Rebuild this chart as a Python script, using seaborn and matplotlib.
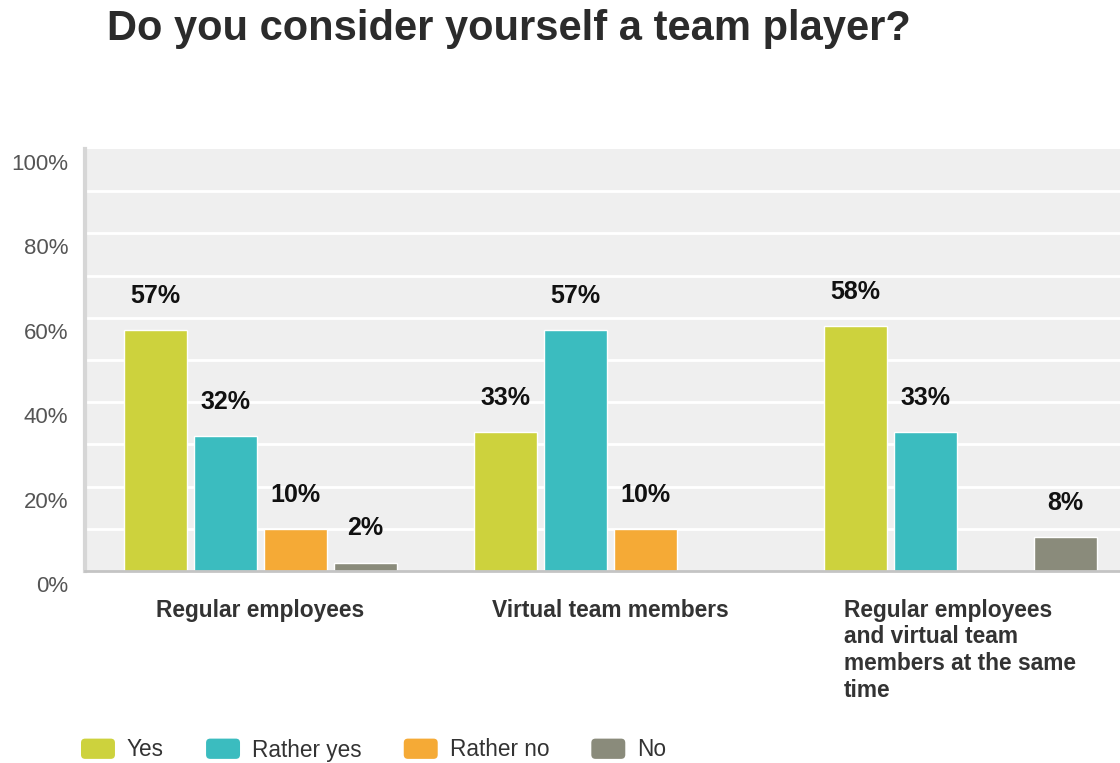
import numpy as np
import pandas as pd
import matplotlib
matplotlib.use("Agg")
import matplotlib.pyplot as plt
from matplotlib.transforms import ScaledTranslation
from matplotlib.patches import Patch, FancyBboxPatch
from matplotlib.legend_handler import HandlerBase
import seaborn as sns

# Survey answers per respondent group (percent)
groups = ["Regular employees", "Virtual team members",
          "Regular employees\nand virtual team\nmembers at the same\ntime"]
answers = ["Yes", "Rather yes", "Rather no", "No"]
yes = [57, 33, 58]
rather_yes = [32, 57, 33]
rather_no = [10, 10, np.nan]
no = [2, np.nan, 8]
yticks = [0, 20, 40, 60, 80, 100]
ytick_labels = ["0%", "20%", "40%", "60%", "80%", "100%"]

colors = ["#cdd23d", "#3bbcbf", "#f5aa36", "#8a8b7b"]

rows = []
for ans, vals in zip(answers, [yes, rather_yes, rather_no, no]):
    for g, v in zip(groups, vals):
        rows.append({"group": g, "answer": ans, "value": v})
df = pd.DataFrame(rows).dropna()

sns.set_theme(style="white")
plt.rcParams["font.family"] = ["Liberation Sans", "DejaVu Sans"]

fig = plt.figure(figsize=(11.2, 7.63), dpi=100)
ax = fig.add_axes([85 / 1120, 192 / 763, 1 - 85 / 1120, 422 / 763])
ax.set_facecolor("#efefef")

sns.barplot(data=df, x="group", y="value", hue="answer", order=groups,
            hue_order=answers, palette=colors, saturation=1, width=0.8,
            gap=0.1, legend=False, ax=ax)

# White grid every 10%
ax.set_ylim(0, 100)
ax.set_xlim(-0.5, 2.457)
for yv in range(10, 100, 10):
    ax.axhline(yv, color="white", lw=2, zorder=0.5)
ax.set_axisbelow(True)

for c in ax.containers:
    ax.bar_label(c, labels=[f"{v:.0f}%" for v in c.datavalues],
                 padding=16, fontsize=18, fontweight="bold", color="#111111")

ax.set_yticks(yticks)
ax.set_yticklabels(ytick_labels, fontsize=16, color="#555555")
ax.tick_params(axis="y", length=0, pad=12)
shift = ScaledTranslation(0, -13 / 100, fig.dpi_scale_trans)
for lbl in ax.get_yticklabels():
    lbl.set_transform(lbl.get_transform() + shift)

ax.set_xticks(range(len(groups)))
ax.set_xticklabels(groups, fontsize=16.4, fontweight="bold", color="#333333",
                   va="top", ha="center", multialignment="left",
                   linespacing=1.2)
ax.tick_params(axis="x", length=0, pad=20)
ax.set_xlabel("")
ax.set_ylabel("")

for s in ["top", "right"]:
    ax.spines[s].set_visible(False)
ax.spines["left"].set_color("#d6d6d6")
ax.spines["left"].set_linewidth(3)
ax.spines["bottom"].set_color("#c4c4c4")
ax.spines["bottom"].set_linewidth(2)

fig.text(107 / 1120, 1 - 29 / 763, "Do you consider yourself a team player?",
         fontsize=30, fontweight="bold", color="#2b2b2b", ha="left", va="center")


class RoundedSwatch(HandlerBase):
    """Legend swatch drawn as a rounded rectangle."""
    def create_artists(self, legend, orig_handle, xdescent, ydescent,
                       width, height, fontsize, trans):
        r = 3
        box = FancyBboxPatch((-xdescent + r, -ydescent + r),
                             width - 2 * r, height - 2 * r,
                             boxstyle=f"round,pad={r}",
                             facecolor=orig_handle.get_facecolor(),
                             edgecolor="none", transform=trans)
        return [box]


handles = [Patch(facecolor=c, edgecolor="none", label=a)
           for c, a in zip(colors, answers)]
fig.legend(handles=handles, loc="center left",
           bbox_to_anchor=(81 / 1120, 1 - 750 / 763), ncol=4, frameon=False,
           fontsize=16.3, handlelength=1.5, handleheight=1.0,
           handletextpad=0.53, columnspacing=1.86, borderpad=0,
           borderaxespad=0, labelcolor="#333333",
           handler_map={Patch: RoundedSwatch()})

fig.savefig("out.png", dpi=100)
